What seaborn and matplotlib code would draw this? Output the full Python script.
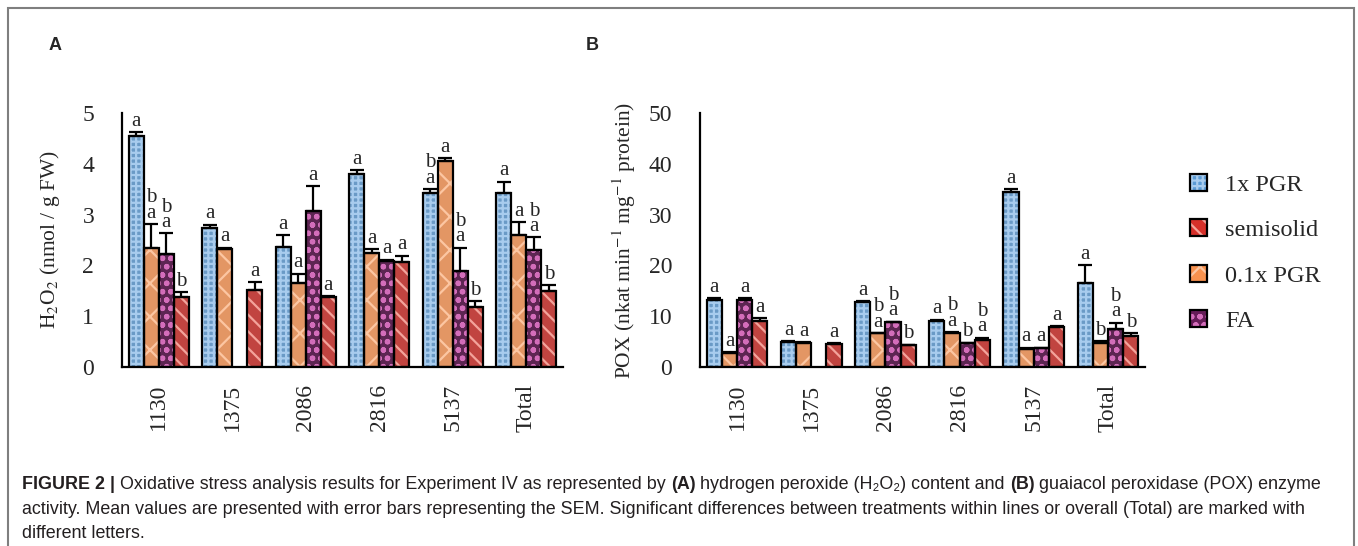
import numpy as np
import pandas as pd
import matplotlib
matplotlib.use('Agg')
import matplotlib.pyplot as plt
import seaborn as sns
from matplotlib.patches import Rectangle, Patch

sns.set_style("white")
plt.rcParams['font.family'] = ['Liberation Serif', 'DejaVu Serif']
plt.rcParams['mathtext.fontset'] = 'stix'
plt.rcParams['hatch.linewidth'] = 1.6

# ---- data ----
lines = ['1130', '1375', '2086', '2816', '5137', 'Total']
treatments = ['1x PGR', '0.1x PGR', 'FA', 'semisolid']
legend_order = ['1x PGR', 'semisolid', '0.1x PGR', 'FA']

# (A) H2O2, nmol / g FW  (nan = not tested)
h2o2_1x = [4.55, 2.74, 2.36, 3.80, 3.43, 3.42]
h2o2_01x = [2.35, 2.33, 1.66, 2.24, 4.05, 2.60]
h2o2_fa = [2.23, np.nan, 3.08, 2.09, 1.88, 2.31]
h2o2_semi = [1.38, 1.51, 1.37, 2.06, 1.18, 1.50]
h2o2_err_1x = [0.07, 0.06, 0.23, 0.07, 0.07, 0.23]
h2o2_err_01x = [0.46, 0.02, 0.18, 0.08, 0.06, 0.25]
h2o2_err_fa = [0.40, np.nan, 0.48, 0.02, 0.47, 0.24]
h2o2_err_semi = [0.09, 0.16, 0.02, 0.13, 0.11, 0.11]
h2o2_let_1x = ['a', 'a', 'a', 'a', 'b\na', 'a']
h2o2_let_01x = ['b\na', 'a', 'a', 'a', 'a', 'a']
h2o2_let_fa = ['b\na', '', 'a', 'a', 'b\na', 'b\na']
h2o2_let_semi = ['b', 'a', 'a', 'a', 'b', 'b']

# (B) POX, nkat min-1 mg-1 protein
pox_1x = [13.1, 5.0, 12.8, 9.05, 34.5, 16.6]
pox_01x = [2.8, 4.8, 6.6, 6.75, 3.5, 4.8]
pox_fa = [13.1, np.nan, 8.8, 4.65, 3.7, 7.5]
pox_semi = [9.1, 4.6, 4.3, 5.3, 7.9, 6.2]
pox_err_1x = [0.4, 0.1, 0.2, 0.3, 0.5, 3.4]
pox_err_01x = [0.1, 0.05, 0.1, 0.1, 0.3, 0.3]
pox_err_fa = [0.4, np.nan, 0.1, 0.1, 0.1, 1.2]
pox_err_semi = [0.5, 0.05, 0.1, 0.5, 0.1, 0.5]
pox_let_1x = ['a', 'a', 'a', 'a', 'a', 'a']
pox_let_01x = ['a', 'a', 'b\na', 'b\na', 'a', 'b']
pox_let_fa = ['a', '', 'b\na', 'b', 'a', 'b\na']
pox_let_semi = ['a', 'a', 'b', 'b\na', 'a', 'b']

face = {'1x PGR': '#5B9BD5', '0.1x PGR': '#F8924F', 'FA': '#661C58', 'semisolid': '#D6302A'}
hatch_col = {'1x PGR': '#A8CCEE', '0.1x PGR': '#FCC6A2', 'FA': '#D36DBA', 'semisolid': '#F3A39B'}
hatch = {'1x PGR': '+++', '0.1x PGR': 'x', 'FA': 'oo', 'semisolid': '\\\\'}


def long_table(vals, errs, lets):
    rows = []
    for t, v, e, l in zip(treatments, vals, errs, lets):
        for i, ln in enumerate(lines):
            rows.append({'line': ln, 'treatment': t, 'value': v[i], 'err': e[i], 'letter': l[i]})
    return pd.DataFrame(rows)


df_a = long_table([h2o2_1x, h2o2_01x, h2o2_fa, h2o2_semi],
                  [h2o2_err_1x, h2o2_err_01x, h2o2_err_fa, h2o2_err_semi],
                  [h2o2_let_1x, h2o2_let_01x, h2o2_let_fa, h2o2_let_semi])
df_b = long_table([pox_1x, pox_01x, pox_fa, pox_semi],
                  [pox_err_1x, pox_err_01x, pox_err_fa, pox_err_semi],
                  [pox_let_1x, pox_let_01x, pox_let_fa, pox_let_semi])

fig = plt.figure(figsize=(13.58, 5.46), dpi=100)
ax_a = fig.add_axes([122 / 1358, 1 - 367 / 546, 441 / 1358, 254 / 546])
ax_b = fig.add_axes([700 / 1358, 1 - 367 / 546, 445 / 1358, 254 / 546])


def draw_panel(ax, df, ymax, step):
    sns.barplot(data=df.dropna(subset=['value']), x='line', y='value', hue='treatment',
                order=lines, hue_order=treatments, palette=face, errorbar=None,
                width=0.82, legend=False, ax=ax)
    for t, cont in zip(treatments, ax.containers):
        sub = df[df.treatment == t].set_index('line')
        for bar in cont:
            x0, w, h = bar.get_x(), bar.get_width(), bar.get_height()
            bar.set_hatch(hatch[t])
            bar.set_edgecolor(hatch_col[t])
            bar.set_linewidth(0)
            ax.add_patch(Rectangle((x0, 0), w, h, fill=False, edgecolor='black', lw=1.6, zorder=3))
            xc = x0 + w / 2
            row = sub.loc[lines[int(round(xc))]]
            ax.errorbar(xc, h, yerr=[[0], [row.err]], fmt='none', ecolor='black',
                        elinewidth=1.6, capsize=5, capthick=1.6, zorder=4)
            ax.annotate(row.letter, (xc, h + row.err), xytext=(0, 1), textcoords='offset points',
                        ha='center', va='bottom', fontsize=15, linespacing=0.75)
    ax.set_ylim(0, ymax)
    ax.set_yticks(np.arange(0, ymax + 1e-9, step))
    ax.set_xlim(-0.5, len(lines) - 0.5)
    ax.set_xlabel('')
    ax.tick_params(axis='y', length=0, labelsize=17, pad=20)
    ax.tick_params(axis='x', length=0, labelsize=17, pad=12, labelrotation=90)
    sns.despine(ax=ax)
    for s in ['left', 'bottom']:
        ax.spines[s].set_linewidth(1.6)
        ax.spines[s].set_color('black')


draw_panel(ax_a, df_a, 5, 1)
draw_panel(ax_b, df_b, 50, 10)
ax_a.set_yticklabels(['0', '1', '2', '3', '4', '5'])
ax_a.set_ylabel(r'H$_2$O$_2$ (nmol / g FW)', fontsize=15.5)
ax_a.yaxis.set_label_coords(-0.135, 0.5)
ax_b.set_ylabel(r'POX (nkat min$^{-1}$ mg$^{-1}$ protein)', fontsize=15.5)
ax_b.yaxis.set_label_coords(-0.14, 0.5)

# legend
handles = [(Patch(facecolor=face[t], edgecolor=hatch_col[t], hatch=hatch[t], lw=0),
            Patch(fill=False, edgecolor='black', lw=1.6)) for t in legend_order]
fig.legend(handles, legend_order, loc='center left', bbox_to_anchor=(1168 / 1358, 1 - 253 / 546),
           frameon=False, fontsize=17.5, handlelength=0.7, handleheight=0.7,
           labelspacing=0.97, handletextpad=0.75)

# panel letters
fig.text(49 / 1358, 1 - 45 / 546, 'A', fontweight='bold', family='Liberation Sans', fontsize=13, va='center')
fig.text(586 / 1358, 1 - 45 / 546, 'B', fontweight='bold', family='Liberation Sans', fontsize=13, va='center')

# caption, mixed bold / regular
cap_font = ['Liberation Sans Narrow', 'Liberation Sans', 'DejaVu Sans']
renderer = fig.canvas.get_renderer()


def caption_line(y, runs):
    x = 22 / 1358
    for s, bold in runs:
        t = fig.text(x, y, s, family=cap_font, fontsize=12.9, color='#231F20',
                     fontweight='bold' if bold else 'normal', va='baseline')
        x += t.get_window_extent(renderer=renderer).width / fig.bbox.width


caption_line(1 - 489 / 546, [('FIGURE 2 |', True),
                             (' Oxidative stress analysis results for Experiment IV as represented by ', False),
                             ('(A)', True), (' hydrogen peroxide (H\u2082O\u2082) content and ', False),
                             ('(B)', True), (' guaiacol peroxidase (POX) enzyme', False)])
caption_line(1 - 514 / 546, [('activity. Mean values are presented with error bars representing the SEM. '
                              'Significant differences between treatments within lines or overall (Total) are marked with', False)])
caption_line(1 - 538 / 546, [('different letters.', False)])

# outer frame
fig.add_artist(Rectangle((8 / 1358, -0.02), 1346 / 1358, 1.02 - 8 / 546, transform=fig.transFigure,
                         fill=False, edgecolor='#7F7F7F', lw=1.5))

fig.savefig('out.png', dpi=100)
